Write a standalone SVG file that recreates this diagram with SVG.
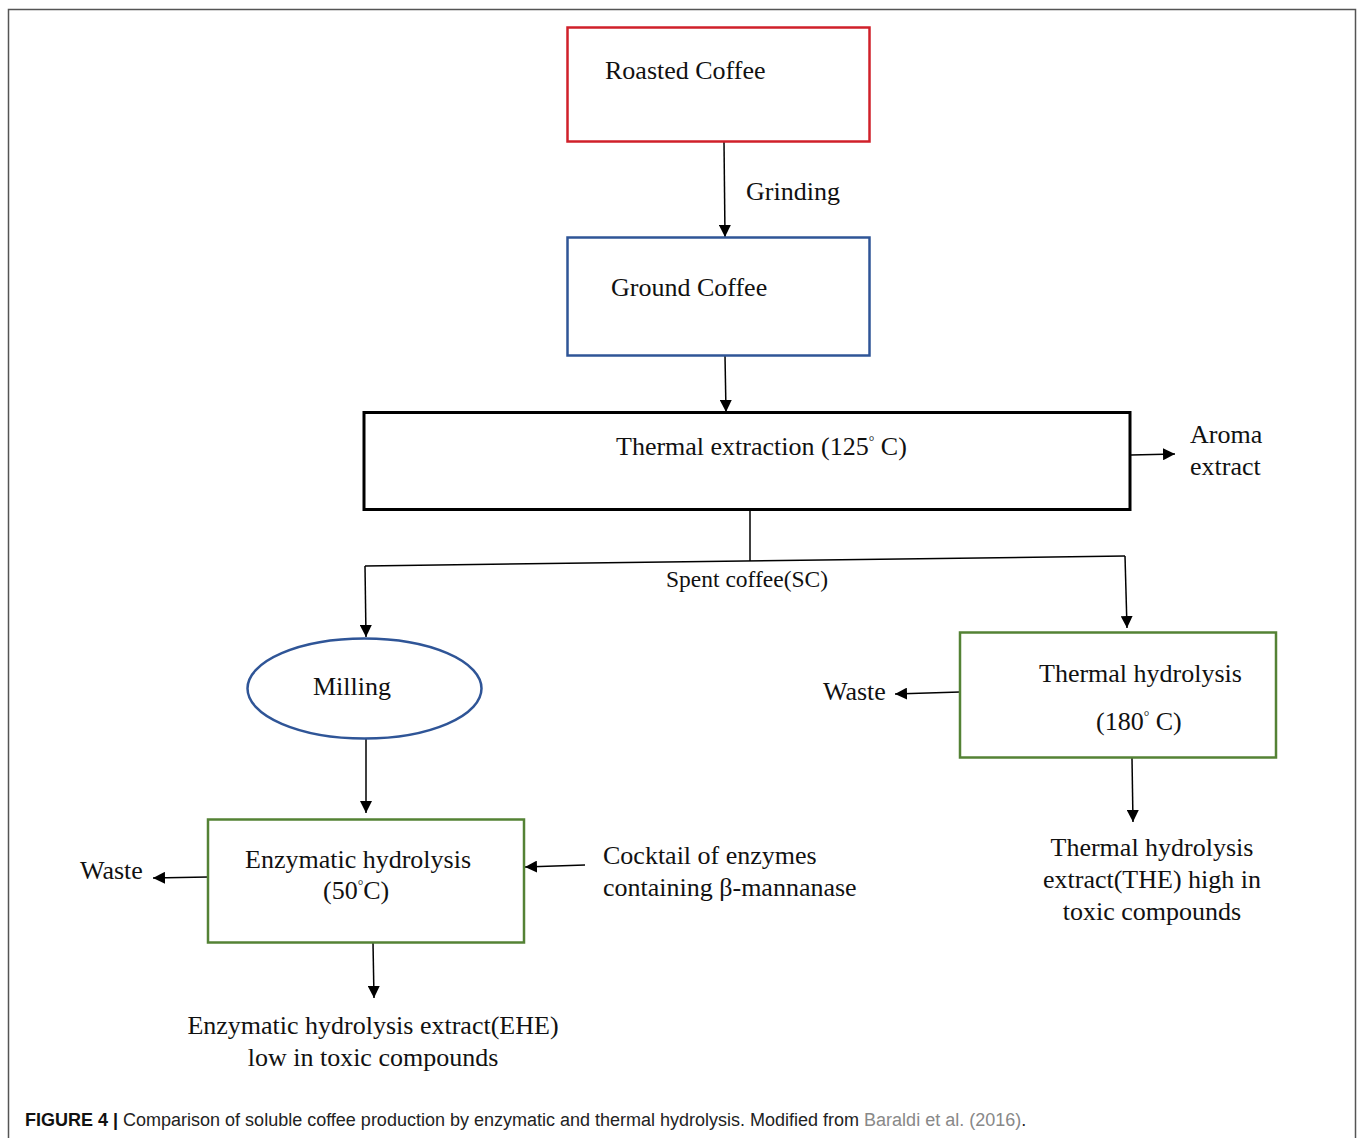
<svg xmlns="http://www.w3.org/2000/svg" width="1357" height="1138" viewBox="0 0 1357 1138">
<defs>
<marker id="ah" viewBox="0 0 10 10" refX="10" refY="5" markerWidth="12" markerHeight="12" markerUnits="userSpaceOnUse" orient="auto">
<path d="M0,0 L10,5 L0,10 z" fill="#000"/>
</marker>
<style>
.t{font-family:"Liberation Serif","Times New Roman",serif;font-size:26px;fill:#111}
.s{font-family:"Liberation Serif","Times New Roman",serif;font-size:23.5px;fill:#111}
.c{stroke:#000;stroke-width:1.5;fill:none}
.a{marker-end:url(#ah)}
.cap{font-family:"Liberation Sans",Arial,sans-serif;font-size:18px;fill:#222}
</style>
</defs>
<rect width="1357" height="1138" fill="#fff"/>
<path d="M8.5,1138 V9.5 H1355.5 V1138" fill="none" stroke="#555" stroke-width="1.5"/>
<g id="connectors">
<path class="c a" d="M724,142 L725,237"/>
<path class="c a" d="M725,356 L726,412"/>
<path class="c a" d="M1131,455 L1175,454"/>
<path class="c" d="M750,509 V561"/>
<path class="c" d="M365,566 L1125,556"/>
<path class="c a" d="M365,566 L366,637"/>
<path class="c a" d="M1125,556 L1127,628"/>
<path class="c a" d="M366,739 L366,813"/>
<path class="c a" d="M208,877 L153,878"/>
<path class="c a" d="M585,865 L525,867"/>
<path class="c a" d="M373,943 L374,998"/>
<path class="c a" d="M960,692 L895,694"/>
<path class="c a" d="M1132,758 L1133,822"/>
<text class="t" x="746" y="200">Grinding</text>
<text class="s" x="666" y="587">Spent coffee(SC)</text>
</g>
<g id="roasted">
<rect x="567.5" y="27.5" width="302" height="114" fill="none" stroke="#d0202a" stroke-width="2.5"/>
<text class="t" x="605" y="79">Roasted Coffee</text>
</g>
<g id="ground">
<rect x="567.5" y="237.5" width="302" height="118" fill="none" stroke="#2f5597" stroke-width="2.5"/>
<text class="t" x="611" y="296">Ground Coffee</text>
</g>
<g id="thermal-extraction">
<rect x="364" y="412.5" width="766" height="97" fill="none" stroke="#000" stroke-width="3"/>
<text class="t" x="616" y="455">Thermal extraction (125<tspan font-size="14" dy="-9">°</tspan><tspan dy="9"> C)</tspan></text>
</g>
<g id="aroma">
<text class="t" x="1190" y="443">Aroma</text>
<text class="t" x="1190" y="475">extract</text>
</g>
<g id="milling">
<ellipse cx="364.5" cy="688.5" rx="117" ry="50" fill="none" stroke="#2f5597" stroke-width="2.5"/>
<text class="t" x="313" y="695">Milling</text>
</g>
<g id="enzymatic">
<rect x="208" y="819.5" width="316" height="123" fill="none" stroke="#548235" stroke-width="2.5"/>
<text class="t" x="245" y="868">Enzymatic hydrolysis</text>
<text class="t" x="323" y="899">(50<tspan font-size="14" dy="-9">°</tspan><tspan dy="9">C)</tspan></text>
</g>
<g id="waste-left">
<text class="t" x="80" y="879">Waste</text>
</g>
<g id="cocktail">
<text class="t" x="603" y="864">Cocktail of enzymes</text>
<text class="t" x="603" y="896">containing β-mannanase</text>
</g>
<g id="ehe">
<text class="t" x="373" y="1034" text-anchor="middle">Enzymatic hydrolysis extract(EHE)</text>
<text class="t" x="373" y="1066" text-anchor="middle">low in toxic compounds</text>
</g>
<g id="thermal-hydrolysis">
<rect x="960" y="632.5" width="316" height="125" fill="none" stroke="#548235" stroke-width="2.5"/>
<text class="t" x="1039" y="682">Thermal hydrolysis</text>
<text class="t" x="1096" y="730">(180<tspan font-size="14" dy="-9">°</tspan><tspan dy="9"> C)</tspan></text>
</g>
<g id="waste-right">
<text class="t" x="823" y="700">Waste</text>
</g>
<g id="the">
<text class="t" x="1152" y="856" text-anchor="middle">Thermal hydrolysis</text>
<text class="t" x="1152" y="888" text-anchor="middle">extract(THE) high in</text>
<text class="t" x="1152" y="920" text-anchor="middle">toxic compounds</text>
</g>
<text class="cap" x="25" y="1126"><tspan font-weight="bold" fill="#111">FIGURE 4 |</tspan> Comparison of soluble coffee production by enzymatic and thermal hydrolysis. Modified from <tspan fill="#888">Baraldi et al. (2016)</tspan>.</text>
</svg>
